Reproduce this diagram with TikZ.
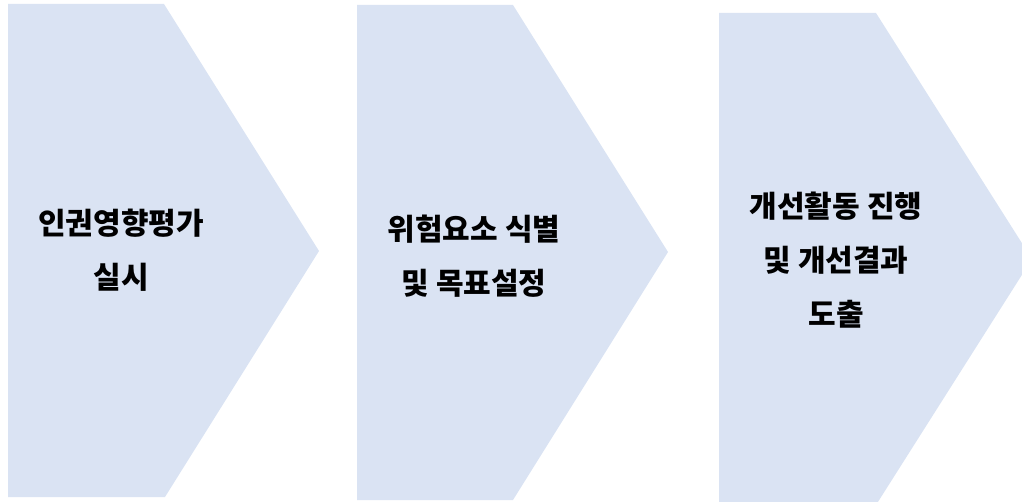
\documentclass[tikz,border=0pt]{standalone}
\usepackage{fontspec}
\newfontfamily\krfont{Noto Sans CJK KR}
\usetikzlibrary{positioning}
\definecolor{boxblue}{RGB}{218,227,243}
\tikzset{chevron/.style={fill=boxblue, draw=none},
steptxt/.style={align=center, inner sep=0pt, text=black,
font=\krfont\bfseries\fontsize{30}{54}\selectfont}}

\begin{document}
\begin{tikzpicture}[x=1pt,y=-1pt]
  \useasboundingbox (0,0) rectangle (1022,502);
  \fill [chevron] (8,4) -- (164,4) -- (319,251) -- (165,497) -- (8,497) -- cycle;
  \fill [chevron] (357,5) -- (513,5) -- (668,252) -- (513,500) -- (357,500) -- cycle;
  \fill [chevron] (719,13) -- (876,13) -- (1032,259) -- (876,505) -- (719,505) -- cycle;
  \node (t1) [steptxt] at (121,250) {인권영향평가\\실시};
  \node (t2) [steptxt] at (474,256) {위험요소 식별\\및 목표설정};
  \node (t3) [steptxt] at (836,260) {개선활동 진행\\및 개선결과\\도출};
\end{tikzpicture}
\end{document}
